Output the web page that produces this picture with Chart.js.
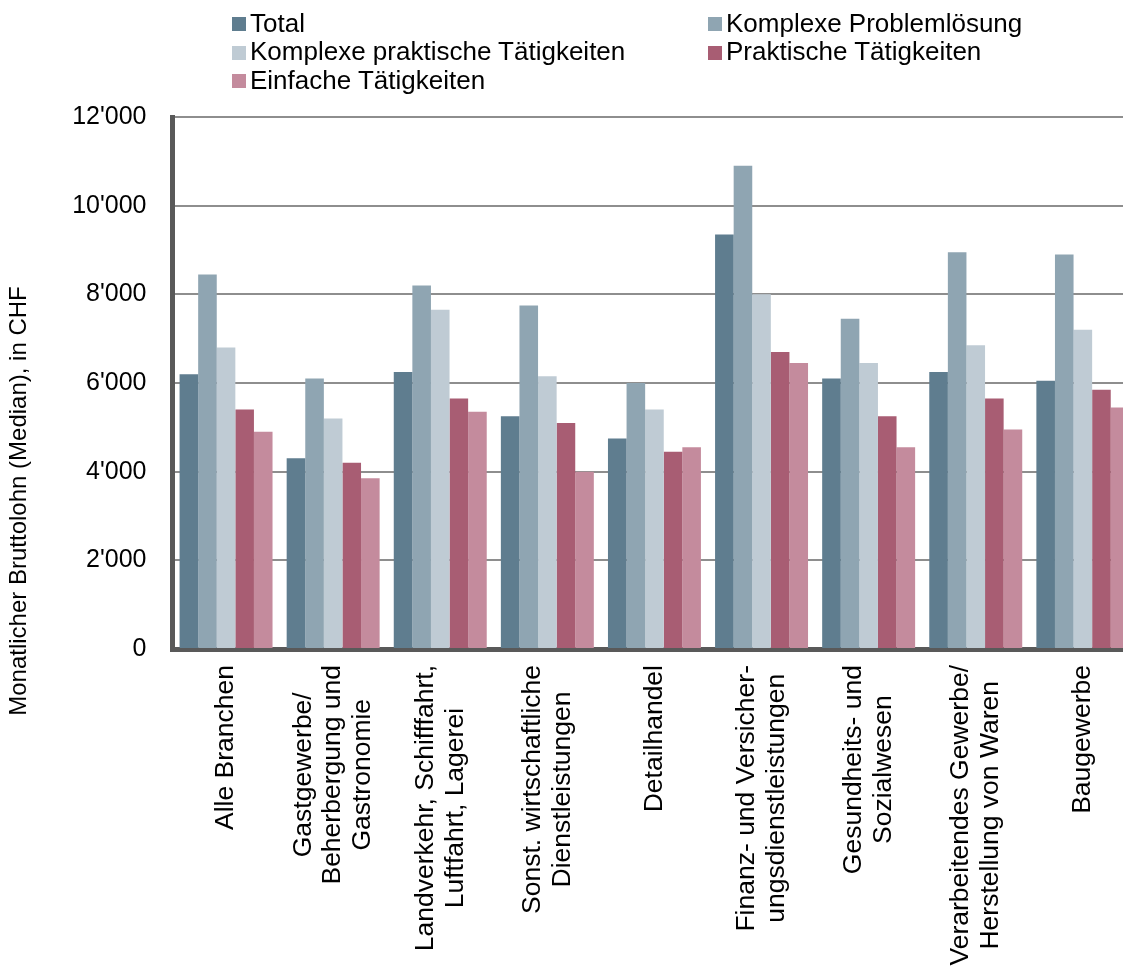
<!DOCTYPE html>
<html>
<head>
<meta charset="utf-8">
<script src="https://cdn.jsdelivr.net/npm/chart.js@4"></script>
<style>
  html, body { margin: 0; padding: 0; background: #fff; overflow: hidden; }
  #wrap { position: absolute; left: 0; top: 0; width: 1160px; height: 967px; }
  #legend {
    position: absolute; left: 232px; top: 9px;
    display: grid; grid-template-columns: 476px auto; grid-auto-rows: 28.5px;
    font: 26px "Liberation Sans", Arial, sans-serif; color: #000;
  }
  .item { display: flex; align-items: center; white-space: nowrap; }
  .box { width: 14px; height: 14px; margin: 2px 4px 0 0; }
</style>
</head>
<body>
<div id="wrap"><canvas id="chart"></canvas></div>
<div id="legend"></div>
<script>
const categories = [
  "Alle Branchen",
  ["Gastgewerbe/", "Beherbergung und", "Gastronomie"],
  ["Landverkehr, Schifffahrt,", "Luftfahrt, Lagerei"],
  ["Sonst. wirtschaftliche", "Dienstleistungen"],
  "Detailhandel",
  ["Finanz- und Versicher-", "ungsdienstleistungen"],
  ["Gesundheits- und", "Sozialwesen"],
  ["Verarbeitendes Gewerbe/", "Herstellung von Waren"],
  "Baugewerbe",
];

const seriesNames = [
  "Total",
  "Komplexe Problemlösung",
  "Komplexe praktische Tätigkeiten",
  "Praktische Tätigkeiten",
  "Einfache Tätigkeiten",
];

const total = [6200, 4300, 6250, 5250, 4750, 9350, 6100, 6250, 6050];
const komplexeProblem = [8450, 6100, 8200, 7750, 6000, 10900, 7450, 8950, 8900];
const komplexePraktisch = [6800, 5200, 7650, 6150, 5400, 8000, 6450, 6850, 7200];
const praktisch = [5400, 4200, 5650, 5100, 4450, 6700, 5250, 5650, 5850];
const einfach = [4900, 3850, 5350, 4000, 4550, 6450, 4550, 4950, 5450];

const yTickLabels = ["0", "2'000", "4'000", "6'000", "8'000", "10'000", "12'000"];
const yTitle = "Monatlicher Bruttolohn (Median), in CHF";

const colors = ["#5f7d8f", "#8fa5b2", "#bfcbd4", "#a85d73", "#c48b9d"];
const FONT = '"Liberation Sans", Arial, sans-serif';

// rotated multi-line tick labels: centre the lines on the tick and on each other
const xLabelFix = {
  id: "xLabelFix",
  beforeDraw(chart) {
    const ctx = chart.ctx;
    chart.scales.x.getLabelItems().forEach((item) => {
      if (item._fixed) return;
      const lines = [].concat(item.label);
      ctx.font = item.font.string;
      const w = Math.max(...lines.map((l) => ctx.measureText(l).width));
      const lh = item.font.lineHeight;
      item.options.translation[0] -= ((lines.length - 1) * lh) / 2;
      item.options.translation[1] += w / 2;
      item.options.textAlign = "center";
      item._fixed = true;
    });
  },
};

// y title sits lower than the plot centre in the original
const yTitlePlugin = {
  id: "yTitlePlugin",
  afterDraw(chart) {
    const ctx = chart.ctx;
    ctx.save();
    ctx.translate(19, 501);
    ctx.rotate(-Math.PI / 2);
    ctx.font = "24px " + FONT;
    ctx.fillStyle = "#000";
    ctx.textAlign = "center";
    ctx.textBaseline = "middle";
    ctx.fillText(yTitle, 0, 0);
    ctx.restore();
  },
};

const series = [total, komplexeProblem, komplexePraktisch, praktisch, einfach];

const chart = new Chart(document.getElementById("chart"), {
  type: "bar",
  data: {
    labels: categories,
    datasets: series.map((data, i) => ({
      label: seriesNames[i],
      data,
      backgroundColor: colors[i],
      borderWidth: 0,
      categoryPercentage: 0.868,
      barPercentage: 1,
    })),
  },
  options: {
    responsive: true,
    maintainAspectRatio: false,
    animation: false,
    layout: { padding: { top: 117, right: 23.6, left: 0, bottom: 0 } },
    plugins: {
      legend: { display: false },
      tooltip: { enabled: false },
    },
    scales: {
      x: {
        z: 1,
        grid: { display: false, drawTicks: false },
        border: { display: true, width: 5, color: "#595959" },
        ticks: {
          autoSkip: false,
          minRotation: 90,
          maxRotation: 90,
          padding: 16,
          color: "#000",
          font: { family: FONT, size: 26.5, lineHeight: 1.13 },
        },
        afterFit: (s) => {
          s.height = 318;
        },
      },
      y: {
        min: 0,
        max: 12000,
        grid: { color: "#8e8e8e", lineWidth: 2, drawTicks: false },
        border: { display: true, width: 5, color: "#595959" },
        ticks: {
          stepSize: 2000,
          padding: 26,
          color: "#000",
          font: { family: FONT, size: 25 },
          callback: (v) => yTickLabels[v / 2000],
        },
        afterFit: (s) => {
          s.width = 172.5;
        },
      },
    },
  },
  plugins: [xLabelFix, yTitlePlugin],
});

// legend in two columns like the original
const legendEl = document.getElementById("legend");
chart.data.datasets.forEach((ds) => {
  const item = document.createElement("div");
  item.className = "item";
  const box = document.createElement("span");
  box.className = "box";
  box.style.background = ds.backgroundColor;
  item.appendChild(box);
  item.appendChild(document.createTextNode(ds.label));
  legendEl.appendChild(item);
});
</script>
</body>
</html>
